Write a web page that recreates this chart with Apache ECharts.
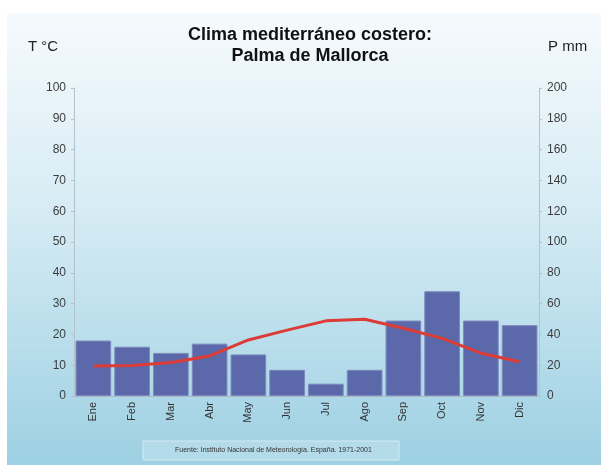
<!DOCTYPE html>
<html>
<head>
<meta charset="utf-8">
<script src="https://cdn.jsdelivr.net/npm/echarts@6/dist/echarts.min.js"></script>
<style>
  html, body { margin: 0; padding: 0; background: #ffffff; }
  #chart { width: 601px; height: 465px; }
</style>
</head>
<body>
<div id="chart"></div>
<script>
// Monthly climate normals, Palma de Mallorca
const months = ['Ene', 'Feb', 'Mar', 'Abr', 'May', 'Jun', 'Jul', 'Ago', 'Sep', 'Oct', 'Nov', 'Dic'];
const precipitation = [36, 32, 28, 34, 27, 17, 8, 17, 49, 68, 49, 46];      // mm
const temperature = [9.7, 9.9, 10.9, 13.0, 18.2, 21.4, 24.4, 24.9, 22.0, 18.7, 13.9, 11.1]; // °C
const tempTicks = [0, 10, 20, 30, 40, 50, 60, 70, 80, 90, 100];
const precTicks = [0, 20, 40, 60, 80, 100, 120, 140, 160, 180, 200];

const font = 'Liberation Sans, Arial, sans-serif';
const chart = echarts.init(document.getElementById('chart'));

chart.setOption({
  animation: false,
  graphic: [
    {
      type: 'rect', z: -10, silent: true,
      shape: { x: 7, y: 13, width: 594, height: 452 },
      style: {
        fill: new echarts.graphic.LinearGradient(0, 0, 0, 1, [
          { offset: 0, color: '#f6fafd' },
          { offset: 0.45, color: '#d5ebf4' },
          { offset: 1, color: '#9dd0e3' }
        ])
      }
    },
    {
      type: 'rect', z: -5, silent: true,
      shape: { x: 143, y: 441, width: 256, height: 19 },
      style: { fill: '#b4dbea', stroke: '#d2ebf4', lineWidth: 1 }
    },
    {
      type: 'text', x: 310, y: 25,
      style: {
        text: 'Clima mediterráneo costero:\nPalma de Mallorca',
        fill: '#111', font: 'bold 18px ' + font, align: 'center', lineHeight: 21
      }
    },
    {
      type: 'text', left: 28, top: 39,
      style: { text: 'T °C', fill: '#222', font: '15px ' + font }
    },
    {
      type: 'text', left: 548, top: 39,
      style: { text: 'P mm', fill: '#222', font: '15px ' + font }
    },
    {
      type: 'text', left: 175, top: 447,
      style: { text: 'Fuente: Instituto Nacional de Meteorología. España. 1971-2001', fill: '#333', font: '7px ' + font }
    }
  ],
  grid: { left: 74, right: 62, top: 88, bottom: 69 },
  xAxis: {
    type: 'category',
    data: months,
    axisLine: { show: true, lineStyle: { color: '#a9b8c4' } },
    axisTick: { show: false },
    axisLabel: { rotate: 90, color: '#333', fontSize: 11, fontFamily: font, margin: 6 }
  },
  yAxis: [
    {
      type: 'value', min: 0, max: 100, interval: 10,
      axisLine: { show: true, lineStyle: { color: '#b3c2cd' } },
      axisTick: { show: true, length: 3, lineStyle: { color: '#b3c2cd' } },
      splitLine: { show: false },
      axisLabel: { color: '#3d3d3d', fontSize: 12, fontFamily: font, margin: 8,
        formatter: v => tempTicks.includes(v) ? String(v) : '' }
    },
    {
      type: 'value', min: 0, max: 200, interval: 20,
      axisLine: { show: true, lineStyle: { color: '#b3c2cd' } },
      axisTick: { show: true, length: 3, lineStyle: { color: '#b3c2cd' } },
      splitLine: { show: false },
      axisLabel: { color: '#3d3d3d', fontSize: 12, fontFamily: font, margin: 8,
        formatter: v => precTicks.includes(v) ? String(v) : '' }
    }
  ],
  series: [
    {
      type: 'bar',
      yAxisIndex: 1,
      data: precipitation,
      barCategoryGap: '8%',
      itemStyle: { color: '#5b69aa', borderColor: '#7c88bd', borderWidth: 1 }
    },
    {
      type: 'line',
      yAxisIndex: 0,
      data: temperature,
      symbol: 'none',
      lineStyle: { color: '#dd3b36', width: 3 },
      z: 5
    }
  ]
});
</script>
</body>
</html>
